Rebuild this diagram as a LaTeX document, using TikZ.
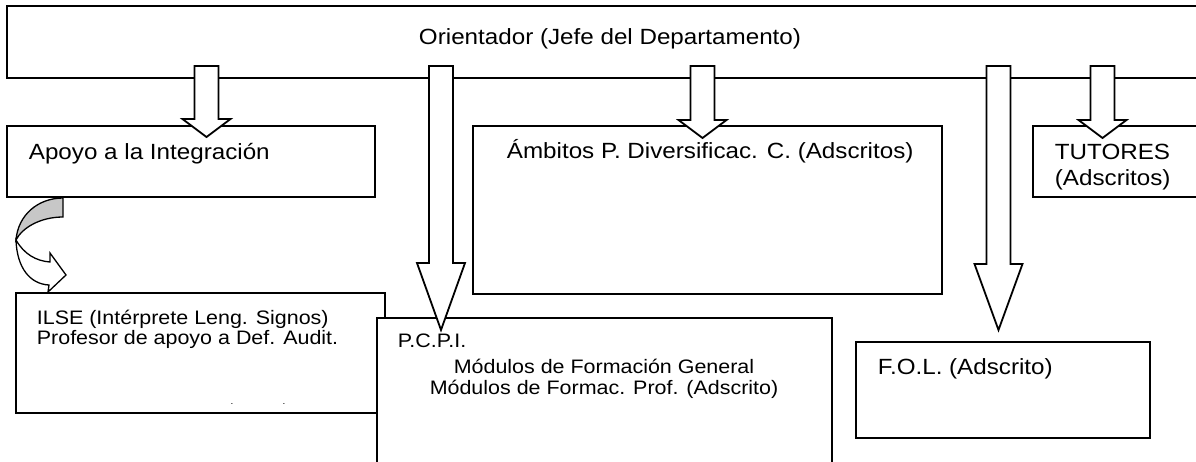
\documentclass[tikz,border=0pt]{standalone}
\usepackage{fontspec}
\setmainfont[FakeStretch=1.1]{Liberation Sans}
\usetikzlibrary{calc}

\newcommand{\bigarrow}[3]{%
  \draw[hollow] ($(#1)+(-12,0)$) -- ($(#1)+(12,0)$) -- ($(#2)+(12,-#3)$) -- ($(#2)+(24,-#3)$) -- (#2)
    -- ($(#2)+(-24,-#3)$) -- ($(#2)+(-12,-#3)$) -- cycle;}

\begin{document}
\begin{tikzpicture}[x=1pt,y=-1pt,line width=1.8pt,
  box/.style={draw,fill=white,inner sep=0pt,outer sep=0pt,anchor=north west},
  hollow/.style={draw,fill=white,line join=miter},
  txt/.style={inner sep=0pt,font=\fontsize{22}{20}\selectfont},
  smalltxt/.style={inner sep=0pt,font=\fontsize{19.5}{20}\selectfont}]
 \clip (0,0) rectangle (1196,461);
 \node[box,minimum width=1220,minimum height=72] (orient) at (7,6) {};
 \node[box,minimum width=368,minimum height=71] (apoyo) at (7,126) {};
 \node[box,minimum width=469,minimum height=168] (ambitos) at (473,126) {};
 \node[box,minimum width=200,minimum height=71] (tutores) at (1033,126) {};
 \node[box,minimum width=369,minimum height=120] (ilse) at (16,293) {};
 \node[box,minimum width=455,minimum height=160] (pcpi) at (377,318) {};
 \node[box,minimum width=294,minimum height=96] (fol) at (856,342) {};

 \draw (206.5,66) coordinate (a1s) (206.5,137) coordinate (a1e);
 \draw (441,66) coordinate (a2s) (441,330) coordinate (a2e);
 \draw (702.5,66) coordinate (a3s) (702.5,138) coordinate (a3e);
 \draw (998.5,66) coordinate (a4s) (998.5,330) coordinate (a4e);
 \draw (1102.5,66) coordinate (a5s) (1102.5,138) coordinate (a5e);
 \bigarrow{a1s}{a1e}{18}
 \bigarrow{a2s}{a2e}{67}
 \bigarrow{a3s}{a3e}{18}
 \bigarrow{a4s}{a4e}{66}
 \bigarrow{a5s}{a5e}{18}

 \draw[line width=1.3pt,fill=black!22] (63,198) .. controls (38,198) and (18,215) .. (16,240)
   .. controls (22,228) and (40,217) .. (63,217) -- cycle;
 \draw[line width=1.3pt,fill=white,line join=miter] (16,240) .. controls (24,254) and (36,261) .. (50,262)
   -- (50,253) -- (66,275) -- (48,292) -- (49,285) .. controls (30,284) and (17,268) .. (16,240) -- cycle;

 \node[txt,anchor=base] (orienttxt) at (610,44) {Orientador (Jefe del Departamento)};
 \node[txt,anchor=base west] (apoyotxt) at (28,159) {Apoyo a la Integración};
 \node[txt,anchor=base west] (ambitostxt) at (506,158) {Ámbitos P. Diversificac. C. (Adscritos)};
 \node[txt,anchor=base west] (tutorestxt) at (1054,159) {TUTORES};
 \node[txt,anchor=base west] (tutorestxtb) at (1054,185) {(Adscritos)};
 \node[smalltxt,anchor=base west] (ilsetxt) at (36,324) {ILSE (Intérprete Leng. Signos)};
 \node[smalltxt,anchor=base west] (ilsetxtb) at (36,344.5) {Profesor de apoyo a Def. Audit.};
 \node[inner sep=0pt,font=\fontsize{9}{9}\selectfont,anchor=base] (dota) at (232,404) {.};
 \node[inner sep=0pt,font=\fontsize{9}{9}\selectfont,anchor=base] (dotb) at (284,404) {.};
 \node[smalltxt,anchor=base west] (pcpitxt) at (397,347) {P.C.P.I.};
 \node[smalltxt,anchor=base] (pcpitxtb) at (604,373) {Módulos de Formación General};
 \node[smalltxt,anchor=base] (pcpitxtc) at (604,394) {Módulos de Formac. Prof. (Adscrito)};
 \node[txt,anchor=base west] (foltxt) at (877,374) {F.O.L. (Adscrito)};
\end{tikzpicture}
\end{document}
